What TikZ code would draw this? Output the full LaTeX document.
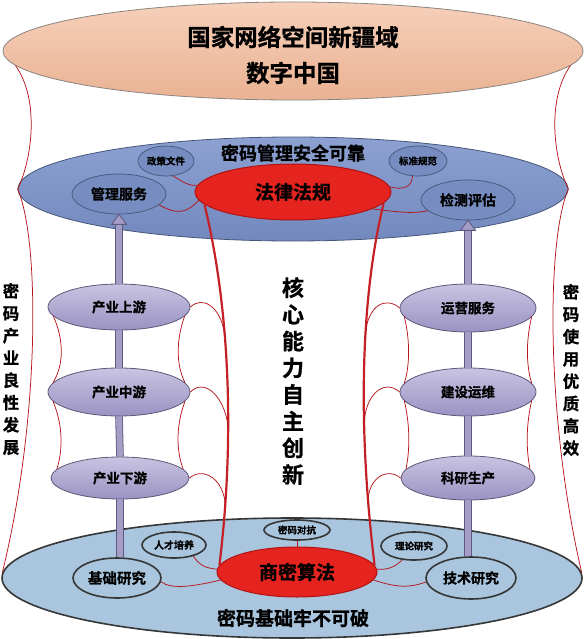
\documentclass[tikz,border=0pt]{standalone}
\usepackage{fontspec}
\newfontfamily\cjkb{Noto Sans CJK SC Bold}[FakeBold=0.8]
\usetikzlibrary{shapes.geometric,calc}

\definecolor{peachT}{HTML}{F6D0BA}
\definecolor{peachB}{HTML}{EAB293}
\definecolor{peachD}{HTML}{8C8480}
\definecolor{steelT}{HTML}{8CA1D1}
\definecolor{steelB}{HTML}{7389BE}
\definecolor{steelD}{HTML}{46557A}
\definecolor{skyF}{HTML}{A9C6DE}
\definecolor{skyD}{HTML}{363636}
\definecolor{lavT}{HTML}{C9C4E2}
\definecolor{lavB}{HTML}{9A92C2}
\definecolor{lavD}{HTML}{5E5778}
\definecolor{coreR}{HTML}{E5231F}
\definecolor{coreD}{HTML}{B01414}
\definecolor{lineR}{HTML}{B5161B}
\definecolor{lineR2}{HTML}{C42026}
\definecolor{shaftF}{HTML}{A49DC6}
\definecolor{shaftD}{HTML}{5C5880}

\begin{document}
\begin{tikzpicture}[x=1pt,y=-1pt,
  sz/.style={font={\cjkb\fontsize{#1}{#1}\selectfont}},
  oval/.style={ellipse, inner sep=0pt, text=black},
  bigtop/.style={oval, top color=peachT, bottom color=peachB, draw=peachD, line width=0.8pt},
  bigmid/.style={oval, top color=steelT, bottom color=steelB, draw=steelD, line width=0.8pt},
  bigbot/.style={oval, fill=skyF, draw=skyD, line width=1.6pt},
  midsub/.style={oval, fill=steelB!85!steelT, draw=steelD, line width=0.7pt},
  botsub/.style={oval, fill=skyF, draw=skyD, line width=1.6pt},
  colnode/.style={oval, top color=lavT, bottom color=lavB, draw=lavD, line width=0.8pt},
  corenode/.style={oval, fill=coreR, draw=coreD, line width=1pt},
  redthin/.style={draw=lineR, line width=0.75pt},
  redthick/.style={draw=lineR2, line width=2.2pt},
  shaftline/.style={draw=shaftD, line width=0.8pt, double=shaftF, double distance=6pt},
  shafthead/.style={fill=shaftF, draw=shaftD, line width=0.8pt, line join=miter},
  vtext/.style 2 args={align=center, font={\cjkb\fontsize{#1}{#2}\selectfont}}]

\useasboundingbox (0,0) rectangle (586,639);

% ---------- three layers ----------
\node[bigtop, minimum width=580pt, minimum height=98pt] (top) at (293,51) {};
\node[sz=23.5] (topA) at (293,37) {国家网络空间新疆域};
\node[sz=23.5] (topB) at (293,73) {数字中国};

\node[bigmid, minimum width=550pt, minimum height=104pt] (mid) at (293,189) {};
\node[sz=18] (midT) at (293,153) {密码管理安全可靠};

\node[bigbot, minimum width=580pt, minimum height=120pt] (bot) at (292,578) {};
\node[sz=19] (botT) at (293,618) {密码基础牢不可破};

% ---------- management layer ----------
\node[midsub, sz=9.5, minimum width=56pt, minimum height=30pt] (zcwj) at (166,161) {政策文件};
\node[midsub, sz=9.5, minimum width=58pt, minimum height=30pt] (bzgf) at (418,161) {标准规范};
\node[midsub, sz=14, minimum width=94pt, minimum height=40pt] (glfw) at (119,194) {管理服务};
\node[midsub, sz=14, minimum width=94pt, minimum height=40pt] (jcpg) at (468,200) {检测评估};
\node[corenode, sz=19, minimum width=196pt, minimum height=56pt] (flfg) at (293,192) {法律法规};

% ---------- industry columns ----------
\node[colnode, sz=13.5, minimum width=142pt, minimum height=46pt] (cy1) at (119,307) {产业上游};
\node[colnode, sz=13.5, minimum width=142pt, minimum height=48pt] (cy2) at (119,392) {产业中游};
\node[colnode, sz=13.5, minimum width=138pt, minimum height=42pt] (cy3) at (120,478) {产业下游};
\node[colnode, sz=13.5, minimum width=136pt, minimum height=48pt] (yy1) at (468,308) {运营服务};
\node[colnode, sz=13.5, minimum width=136pt, minimum height=48pt] (yy2) at (468,392) {建设运维};
\node[colnode, sz=13.5, minimum width=134pt, minimum height=44pt] (yy3) at (468,478) {科研生产};

% ---------- foundation layer ----------
\node[botsub, sz=9.5, minimum width=66pt, minimum height=20pt] (mddk) at (297,530) {密码对抗};
\node[botsub, sz=10, minimum width=64pt, minimum height=26pt] (rcpy) at (174,545) {人才培养};
\node[botsub, sz=9.5, minimum width=66pt, minimum height=28pt] (llyj) at (414,546) {理论研究};
\node[botsub, sz=14.5, minimum width=88pt, minimum height=40pt] (jcyj) at (117,578) {基础研究};
\node[botsub, sz=14, minimum width=90pt, minimum height=42pt] (jsyj) at (471,578) {技术研究};
\node[corenode, sz=19, minimum width=160pt, minimum height=50pt] (smsf) at (297,572) {商密算法};

% ---------- vertical captions ----------
\node[vtext={16.5}{22.3}] (capL) at (11,369) {密\\码\\产\\业\\良\\性\\发\\展};
\node[vtext={16.5}{22.3}] (capR) at (571,370) {密\\码\\使\\用\\优\\质\\高\\效};
\node[vtext={22}{26.7}] (capC) at (293,381) {核\\心\\能\\力\\自\\主\\创\\新};

% ---------- outer hull ----------
\draw[redthin] (top.183.5) .. controls (40,100) and (32,160) .. (mid.west);
\draw[redthin] (mid.west) .. controls (40,240) and (40,420) .. (bot.179);
\draw[redthin] (top.-3.5) .. controls (546,100) and (554,160) .. (mid.east);
\draw[redthin] (mid.east) .. controls (546,240) and (546,420) .. (bot.1);

% ---------- supporting shafts ----------
\draw[shaftline] (cy3.south |- jcyj.north) -- (cy3.south);
\draw[shaftline] (cy3.north) -- (cy2.south);
\draw[shaftline] (cy2.north) -- (cy1.south);
\draw[shaftline] (cy1.north) -- ($(glfw.south)+(0,10)$);
\draw[shafthead] (glfw.south) -- ++(7.5,10) -- ++(-15,0) -- cycle;

\draw[shaftline] (yy3.south |- jsyj.north) -- (yy3.south);
\draw[shaftline] (yy3.north) -- (yy2.south);
\draw[shaftline] (yy2.north) -- (yy1.south);
\draw[shaftline] (yy1.north) -- ($(jcpg.south)+(0,10)$);
\draw[shafthead] (jcpg.south) -- ++(7.5,10) -- ++(-15,0) -- cycle;

% ---------- core column ----------
\draw[redthick] (flfg.188) .. controls (228,300) and (236,430) .. (smsf.175)
  coordinate[pos=0.4] (L1) coordinate[pos=0.65] (L2) coordinate[pos=0.85] (L3);
\draw[redthick] (flfg.-7) .. controls (360,300) and (358,430) .. (smsf.5)
  coordinate[pos=0.4] (R1) coordinate[pos=0.65] (R2) coordinate[pos=0.85] (R3);

% ---------- management links ----------
\draw[redthin] (zcwj.-65) .. controls (186,184) and (190,186) .. (flfg.176);
\draw[redthin] (glfw.-15) .. controls (178,216) and (188,212) .. (flfg.185);
\draw[redthin] (bzgf.-110) .. controls (412,188) and (402,190) .. (flfg.3);
\draw[redthin] (jcpg.195) .. controls (412,214) and (398,212) .. (flfg.-12);

% ---------- column links ----------
\draw[redthin] (cy1.188) .. controls (64,340) and (64,365) .. (cy2.172);
\draw[redthin] (cy1.-8) .. controls (176,340) and (176,365) .. (cy2.8);
\draw[redthin] (cy2.188) .. controls (63,425) and (63,450) .. (cy3.172);
\draw[redthin] (cy2.-8) .. controls (176,425) and (176,450) .. (cy3.8);
\draw[redthin] (yy1.188) .. controls (410,340) and (410,365) .. (yy2.172);
\draw[redthin] (yy1.-8) .. controls (526,340) and (526,365) .. (yy2.8);
\draw[redthin] (yy2.188) .. controls (410,425) and (410,450) .. (yy3.172);
\draw[redthin] (yy2.-8) .. controls (526,425) and (526,450) .. (yy3.8);

\draw[redthin] (cy1.east) .. controls (202,296) and (220,305) .. (L1);
\draw[redthin] (cy2.east) .. controls (204,378) and (224,395) .. (L2);
\draw[redthin] (cy3.east) .. controls (204,466) and (224,480) .. (L3);
\draw[redthin] (yy1.west) .. controls (386,296) and (368,305) .. (R1);
\draw[redthin] (yy2.west) .. controls (384,378) and (364,395) .. (R2);
\draw[redthin] (yy3.west) .. controls (386,466) and (366,480) .. (R3);

% ---------- foundation links ----------
\draw[redthin] (rcpy.-30) .. controls (200,566) and (206,568) .. (smsf.178);
\draw[redthin] (jcyj.-5) .. controls (172,590) and (195,586) .. (smsf.186);
\draw[redthin] (mddk.south) -- (smsf.north);
\draw[redthin] (llyj.-130) .. controls (394,568) and (386,570) .. (smsf.2);
\draw[redthin] (jsyj.185) .. controls (405,590) and (390,585) .. (smsf.-6);

\end{tikzpicture}
\end{document}
